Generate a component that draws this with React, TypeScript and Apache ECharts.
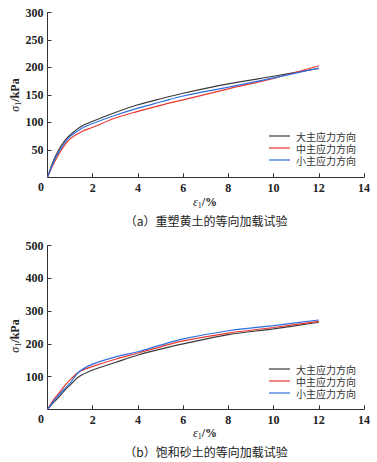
import React, { useEffect, useRef } from "react";
import * as echarts from "echarts";

const seriesNames = ["大主应力方向", "中主应力方向", "小主应力方向"];
const seriesColors = ["#3a3a3a", "#e8372f", "#2f6ee0"];

const epsA = [0, 0.25, 0.5, 0.75, 1, 1.5, 2, 3, 4, 5, 6, 8, 10, 12];
const majorA = [0, 29, 50, 66, 77, 93, 102, 118, 132, 143, 153, 170, 184, 198];
const interA = [0, 23, 42, 58, 70, 83, 91, 108, 120, 131, 141, 161, 180, 203];
const minorA = [0, 26, 46, 62, 74, 89, 98, 113, 126, 137, 148, 164, 181, 199];

const epsB = [0, 0.25, 0.5, 0.75, 1, 1.4, 2, 3, 4, 5, 6, 8, 10, 12];
const majorB = [0, 20, 37, 57, 74, 100, 120, 143, 166, 184, 200, 228, 246, 266];
const interB = [0, 27, 49, 71, 90, 115, 131, 153, 172, 191, 209, 233, 250, 269];
const minorB = [0, 23, 43, 62, 80, 115, 138, 160, 176, 196, 215, 240, 256, 273];

const xTicks = [0, 14, 2];
const yTicksA = [0, 300, 50];
const yTicksB = [0, 500, 100];

const subtitleA = "（a）重塑黄土的等向加载试验";
const subtitleB = "（b）饱和砂土的等向加载试验";

const serif = "'Liberation Serif', 'DejaVu Serif', serif";
const cjk = "'Noto Sans CJK SC', sans-serif";

function pairs(xs: number[], ys: number[]) {
  return xs.map((x, i) => [x, ys[i]]);
}

export default function App() {
  const ref = useRef<HTMLDivElement>(null);
  useEffect(() => {
    if (!ref.current) return;
    const chart = echarts.init(ref.current, null, { renderer: "svg" });
    const axisLine = { lineStyle: { color: "#333", width: 1 } };
    const labelStyle = { fontFamily: serif, fontWeight: "bold", fontSize: 12, color: "#222" };
    const mkX = (gridIndex: number) => ({
      type: "value",
      gridIndex,
      min: xTicks[0],
      max: xTicks[1],
      interval: xTicks[2],
      axisLine,
      axisTick: { inside: true, length: 4, lineStyle: { color: "#333" } },
      axisLabel: { ...labelStyle, margin: 5, formatter: (v: number) => (v === 0 ? "" : String(v)) },
      splitLine: { show: false },
    });
    const mkY = (gridIndex: number, t: number[]) => ({
      type: "value",
      gridIndex,
      min: t[0],
      max: t[1],
      interval: t[2],
      axisLine: { show: true, ...axisLine },
      axisTick: { show: true, inside: true, length: 4, lineStyle: { color: "#333" } },
      axisLabel: { ...labelStyle, margin: 4, formatter: (v: number) => (v === 0 ? "" : String(v)) },
      splitLine: { show: false },
    });
    const dataA = [majorA, interA, minorA];
    const dataB = [majorB, interB, minorB];
    const series: any[] = [];
    const mkSeries = (n: string, i: number, axis: number, xs: number[], ys: number[]) => ({
      type: "line", name: n, xAxisIndex: axis, yAxisIndex: axis,
      smooth: 0.35,
      showSymbol: false, data: pairs(xs, ys),
      lineStyle: { color: seriesColors[i], width: 1.2 }, itemStyle: { color: seriesColors[i] },
    });
    seriesNames.forEach((n, i) => series.push(mkSeries(n, i, 0, epsA, dataA[i])));
    seriesNames.forEach((n, i) => series.push(mkSeries(n, i, 1, epsB, dataB[i])));
    const legend = (top: number) => ({
      orient: "vertical",
      left: 264,
      top,
      icon: "rect",
      itemWidth: 21,
      itemHeight: 1.2,
      itemGap: 2,
      data: seriesNames,
      selectedMode: false,
      textStyle: { fontFamily: cjk, fontSize: 10, color: "#333", lineHeight: 10, padding: [0, 0, 0, 1] },
    });
    const richAxis = {
      g: { fontFamily: serif, fontStyle: "italic", fontSize: 12, fill: "#222" },
      s: { fontFamily: serif, fontSize: 8, fill: "#222", padding: [6, 0, 0, 0] },
      n: { fontFamily: serif, fontWeight: "bold", fontSize: 12, fill: "#222" },
    };
    const textEl = (x: number, y: number, text: string, extra: any = {}) => ({
      type: "text", x, y,
      style: { text, fill: "#222", align: "center", verticalAlign: "middle", ...extra },
    });
    chart.setOption({
      animation: false,
      grid: [
        { left: 47.5, top: 12.5, width: 316.5, height: 164.8 },
        { left: 47.5, top: 245.7, width: 316.5, height: 163.6 },
      ],
      xAxis: [mkX(0), mkX(1)],
      yAxis: [mkY(0, yTicksA), mkY(1, yTicksB)],
      legend: [legend(126), legend(359)],
      series,
      graphic: [
        textEl(41, 187, "0", { fontFamily: serif, fontWeight: "bold", fontSize: 12 }),
        textEl(41, 418.5, "0", { fontFamily: serif, fontWeight: "bold", fontSize: 12 }),
        textEl(205, 202, "{g|ε}{s|1}{n|/%}", { rich: richAxis }),
        textEl(205, 433, "{g|ε}{s|1}{n|/%}", { rich: richAxis }),
        { ...textEl(15, 95, "{g|σ}{s|1}{n|/kPa}", { rich: richAxis }), rotation: Math.PI / 2 },
        { ...textEl(15, 336, "{g|σ}{s|1}{n|/kPa}", { rich: richAxis }), rotation: Math.PI / 2 },
        textEl(206, 220, subtitleA, { fontFamily: cjk, fontSize: 12 }),
        textEl(206, 451, subtitleB, { fontFamily: cjk, fontSize: 12 }),
      ],
    });
    return () => chart.dispose();
  }, []);
  return (
    <div
      ref={ref}
      style={{ position: "absolute", left: 0, top: 0, width: 377, height: 462, background: "#fff" }}
    />
  );
}
